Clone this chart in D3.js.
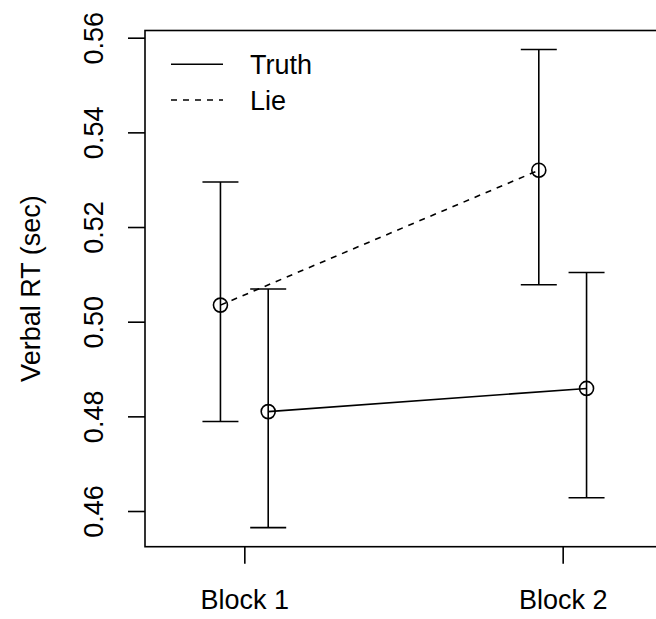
<!DOCTYPE html>
<html>
<head>
<meta charset="utf-8">
<script src="https://cdn.jsdelivr.net/npm/d3@7"></script>
<style>
  html, body { margin: 0; padding: 0; background: #fff; }
  svg { display: block; }
  text { font-family: "Liberation Sans", Arial, Helvetica, sans-serif; fill: #000; }
</style>
</head>
<body>
<svg id="chart" width="656" height="619"></svg>
<script>
// ---- data ----
const categories = ["Block 1", "Block 2"];
const seriesNames = ["Truth", "Lie"];
const truthMean  = [0.4810, 0.4859];
const truthLower = [0.4565, 0.4628];
const truthUpper = [0.5069, 0.5104];
const lieMean    = [0.5035, 0.5320];
const lieLower   = [0.4789, 0.5078];
const lieUpper   = [0.5295, 0.5575];
const yTicks = [0.46, 0.48, 0.50, 0.52, 0.54, 0.56];
const yTickLabels = ["0.46", "0.48", "0.50", "0.52", "0.54", "0.56"];
const yLabel = "Verbal RT (sec)";

// ---- layout ----
const svg = d3.select("#chart");
const plotL = 145, plotR = 662, plotT = 30.5, plotB = 546.7;
const fontSize = 27;
const lw = 1.6;

const x = d3.scaleLinear().domain([0.688, 2.312]).range([plotL, plotR]);
const y = d3.scaleLinear().domain([0.45246, 0.56152]).range([plotB, plotT]);
const offset = 0.075; // horizontal dodge (data units)
const capHalf = 18;

const series = [
  { name: "Lie",   mean: lieMean,   lo: lieLower,   hi: lieUpper,   dx: -offset, dash: "6,6" },
  { name: "Truth", mean: truthMean, lo: truthLower, hi: truthUpper, dx: +offset, dash: null }
];

// box
svg.append("rect")
  .attr("x", plotL).attr("y", plotT)
  .attr("width", plotR - plotL).attr("height", plotB - plotT)
  .attr("fill", "none").attr("stroke", "#000").attr("stroke-width", lw);

// y axis
const yAxis = d3.axisLeft(y).tickValues(yTicks)
  .tickFormat((d, i) => yTickLabels[i]).tickSize(17).tickSizeOuter(0);
const gy = svg.append("g").attr("transform", `translate(${plotL},0)`).call(yAxis);
gy.select(".domain").remove();
gy.selectAll(".tick line").attr("stroke", "#000").attr("stroke-width", lw);
gy.selectAll(".tick text")
  .attr("x", null).attr("dy", null)
  .attr("transform", "translate(-42,0) rotate(-90)")
  .attr("text-anchor", "middle")
  .style("font-size", fontSize + "px")
  .style("font-family", '"Liberation Sans", Arial, sans-serif')
  .attr("fill", "#000");

// x axis
const xAxis = d3.axisBottom(x).tickValues([1, 2])
  .tickFormat((d, i) => categories[i]).tickSize(17).tickSizeOuter(0);
const gx = svg.append("g").attr("transform", `translate(0,${plotB})`).call(xAxis);
gx.select(".domain").remove();
gx.selectAll(".tick line").attr("stroke", "#000").attr("stroke-width", lw);
gx.selectAll(".tick text")
  .attr("y", 62.5).attr("dy", null)
  .attr("text-anchor", "middle")
  .style("font-size", fontSize + "px")
  .style("font-family", '"Liberation Sans", Arial, sans-serif')
  .attr("fill", "#000");

// y label
svg.append("text")
  .attr("transform", `translate(40,${(plotT + plotB) / 2}) rotate(-90)`)
  .attr("text-anchor", "middle")
  .style("font-size", fontSize + "px")
  .text(yLabel);

// series
series.forEach(s => {
  const pts = s.mean.map((m, i) => ({ xv: i + 1 + s.dx, m, lo: s.lo[i], hi: s.hi[i] }));
  const g = svg.append("g");
  g.append("path")
    .datum(pts)
    .attr("d", d3.line().x(d => x(d.xv)).y(d => y(d.m)))
    .attr("fill", "none").attr("stroke", "#000").attr("stroke-width", lw)
    .attr("stroke-dasharray", s.dash);
  pts.forEach(d => {
    const cx = x(d.xv);
    g.append("line").attr("x1", cx).attr("x2", cx).attr("y1", y(d.lo)).attr("y2", y(d.hi))
      .attr("stroke", "#000").attr("stroke-width", lw);
    [d.lo, d.hi].forEach(v => {
      g.append("line").attr("x1", cx - capHalf).attr("x2", cx + capHalf)
        .attr("y1", y(v)).attr("y2", y(v))
        .attr("stroke", "#000").attr("stroke-width", lw);
    });
    g.append("circle").attr("cx", cx).attr("cy", y(d.m)).attr("r", 7)
      .attr("fill", "none").attr("stroke", "#000").attr("stroke-width", lw);
  });
});

// legend
const legend = [
  { name: seriesNames[0], dash: null, ly: 64.3 },
  { name: seriesNames[1], dash: "6,6", ly: 100 }
];
legend.forEach(l => {
  svg.append("line").attr("x1", 171).attr("x2", 223).attr("y1", l.ly).attr("y2", l.ly)
    .attr("stroke", "#000").attr("stroke-width", lw).attr("stroke-dasharray", l.dash);
  svg.append("text").attr("x", 250).attr("y", l.ly + 10)
    .style("font-size", fontSize + "px").text(l.name);
});
</script>
</body>
</html>
